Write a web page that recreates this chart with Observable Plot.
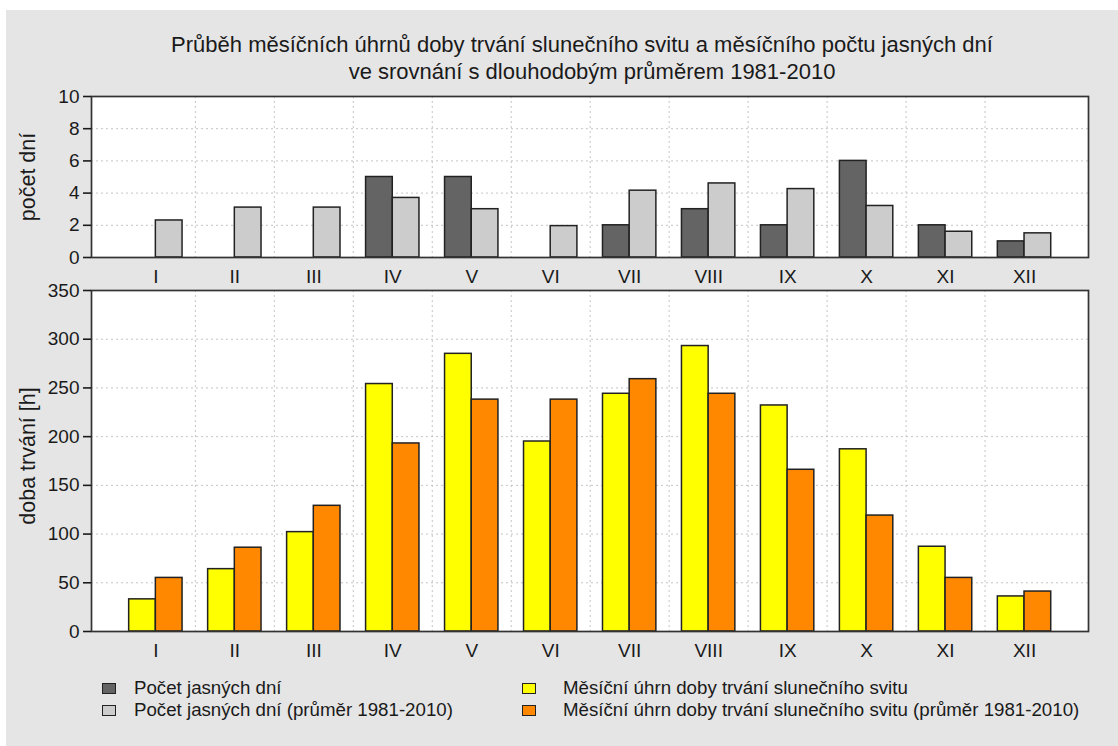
<!DOCTYPE html>
<html>
<head>
<meta charset="utf-8">
<script src="https://cdn.jsdelivr.net/npm/d3@7"></script>
<script src="https://cdn.jsdelivr.net/npm/@observablehq/plot@0.6"></script>
<style>
  html, body { margin: 0; padding: 0; background: #ffffff; }
  body { width: 1118px; height: 746px; position: relative; overflow: hidden; font-family: "Liberation Sans", Arial, sans-serif; color: #1a1a1a; }
  #bg { position: absolute; left: 6px; top: 10px; width: 1112px; height: 736px; background: #e5e5e5; }
  .abs { position: absolute; }
  .title { position: absolute; font-size: 22px; line-height: 25px; white-space: nowrap; color: #1a1a1a; transform: translateX(-50%); }
  .ylab { position: absolute; font-size: 21.5px; white-space: nowrap; transform: translate(-50%, -50%) rotate(-90deg); color: #1a1a1a; }
  .leg { position: absolute; font-size: 18.7px; white-space: nowrap; color: #1a1a1a; line-height: 20px; }
  .sw { position: absolute; width: 12px; height: 9px; border: 1.5px solid #222; }
</style>
</head>
<body>
<div id="bg"></div>
<div class="title" style="left:582px; top:32px;">Průběh měsíčních úhrnů doby trvání slunečního svitu a měsíčního počtu jasných dní</div>
<div class="title" style="left:592px; top:59px;">ve srovnání s dlouhodobým průměrem 1981-2010</div>
<div class="ylab" style="left:28px; top:177px;">počet dní</div>
<div class="ylab" style="left:28px; top:456px;">doba trvání [h]</div>
<div id="p1" class="abs" style="left:0; top:80px;"></div>
<div id="p2" class="abs" style="left:0; top:270px;"></div>
<div id="legend"></div>
<script>
const months = ["I","II","III","IV","V","VI","VII","VIII","IX","X","XI","XII"];
const clearDays = [0,0,0,5,5,0,2,3,2,6,2,1];
const clearDaysAvg = [2.3,3.1,3.1,3.7,3.0,1.95,4.15,4.6,4.25,3.2,1.6,1.5];
const sunshine = [33,64,102,254,285,195,244,293,232,187,87,36];
const sunshineAvg = [55,86,129,193,238,238,259,244,166,119,55,41];
const daysTicks = [0,2,4,6,8,10];
const hoursTicks = [0,50,100,150,200,250,300,350];
const seriesNames = [
  "Počet jasných dní",
  "Počet jasných dní (průměr 1981-2010)",
  "Měsíční úhrn doby trvání slunečního svitu",
  "Měsíční úhrn doby trvání slunečního svitu (průměr 1981-2010)"
];
const seriesColors = ["#646464", "#cccccc", "#ffff00", "#ff8800"];

const BW = 0.338; // bar width in month-step units
const idx = months.map((m, i) => i);
const boundaries = idx.slice(0, -1).map(i => i + 0.5);
const font = "'Liberation Sans', Arial, sans-serif";

function panel(a, b, ca, cb, yMax, yTicks, height, mTop) {
  const A = a.map((v, i) => ({i, v})).filter(d => d.v > 0);
  const B = b.map((v, i) => ({i, v}));
  return Plot.plot({
    width: 1118,
    height,
    marginLeft: 91,
    marginRight: 30,
    marginTop: mTop,
    marginBottom: 30,
    style: {background: "transparent", fontFamily: font, fontSize: "19px", color: "#1a1a1a", overflow: "visible"},
    x: {type: "linear", domain: [-0.815, 11.81]},
    y: {domain: [0, yMax]},
    marks: [
      Plot.frame({fill: "white", stroke: null}),
      Plot.ruleY(yTicks.slice(1, -1), {stroke: "#c4c4c4", strokeDasharray: "2,3", strokeWidth: 1}),
      Plot.ruleX(boundaries, {stroke: "#c4c4c4", strokeDasharray: "2,3", strokeWidth: 1}),
      Plot.rectY(A, {x1: d => d.i - BW, x2: d => d.i, y1: 0, y2: "v", fill: ca, stroke: "#222", strokeWidth: 1.5}),
      Plot.rectY(B, {x1: d => d.i, x2: d => d.i + BW, y1: 0, y2: "v", fill: cb, stroke: "#222", strokeWidth: 1.5}),
      Plot.frame({stroke: "#333", strokeWidth: 1.7}),
      Plot.axisY({ticks: yTicks, tickSize: 8, tickPadding: 4, label: null, fontSize: 19, color: "#1a1a1a", strokeWidth: 1.6}),
      Plot.axisX({ticks: idx, tickFormat: i => months[i], tickSize: 0, tickPadding: 12, label: null, fontSize: 19, color: "#1a1a1a"})
    ]
  });
}

document.getElementById("p1").appendChild(
  panel(clearDays, clearDaysAvg, seriesColors[0], seriesColors[1], 10, daysTicks, 207, 16)
);
document.getElementById("p2").appendChild(
  panel(sunshine, sunshineAvg, seriesColors[2], seriesColors[3], 350, hoursTicks, 391, 20)
);

const legendPos = [
  {sx: 102, tx: 134, y: 683},
  {sx: 102, tx: 134, y: 705},
  {sx: 522, tx: 563, y: 683},
  {sx: 522, tx: 563, y: 705}
];
const leg = document.getElementById("legend");
seriesNames.forEach((name, k) => {
  const p = legendPos[k];
  const sw = document.createElement("div");
  sw.className = "sw";
  sw.style.left = p.sx + "px";
  sw.style.top = p.y + "px";
  sw.style.background = seriesColors[k];
  leg.appendChild(sw);
  const t = document.createElement("div");
  t.className = "leg";
  t.style.left = p.tx + "px";
  t.style.top = (p.y - 5) + "px";
  t.textContent = name;
  leg.appendChild(t);
});
</script>
</body>
</html>
